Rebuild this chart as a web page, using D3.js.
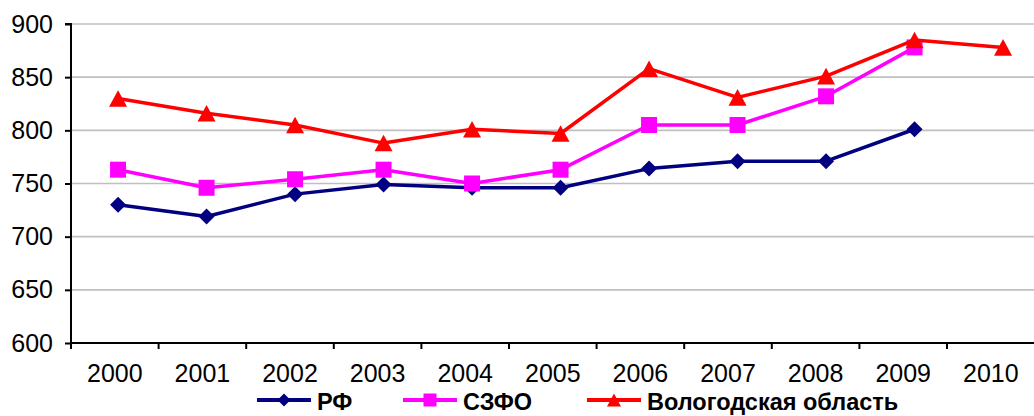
<!DOCTYPE html>
<html><head><meta charset="utf-8">
<script src="https://cdn.jsdelivr.net/npm/d3@7"></script>
<style>html,body{margin:0;padding:0;background:#fff;overflow:hidden}</style>
</head><body>
<svg id="c" width="1034" height="416"></svg>
<script>
const years = ["2000","2001","2002","2003","2004","2005","2006","2007","2008","2009","2010"];
const seriesNames = ["РФ","СЗФО","Вологодская область"];
const rf = [730,719,740,749,746,746,764,771,771,801,null];
const szfo = [763,746,754,763,750,763,805,805,832,878,null];
const vologda = [830,816,805,788,801,797,858,831,851,885,878];
const yTicks = [600,650,700,750,800,850,900];

const colors = ["#000080","#FF00FF","#FF0000"];
const data = [rf, szfo, vologda];

// custom marker shapes (size = width in px)
const diamond = { draw(ctx, s) { const r = s/2; ctx.moveTo(0,-r); ctx.lineTo(r,0); ctx.lineTo(0,r); ctx.lineTo(-r,0); ctx.closePath(); } };
const square = { draw(ctx, s) { const r = s/2; ctx.rect(-r,-r,s,s); } };
const triangle = { draw(ctx, s) { const r = s/2, h = s*0.92; ctx.moveTo(0,-h/2); ctx.lineTo(r,h/2); ctx.lineTo(-r,h/2); ctx.closePath(); } };
const shapes = [diamond, square, triangle];
const plotSizes = [16, 16, 18];
const legendSizes = [13, 13, 14];

const svg = d3.select("#c");
const mLeft = 71, mTop = 24, mBottom = 343;
const y = d3.scaleLinear().domain([600,900]).range([mBottom, mTop]);
const xAxisScale = d3.scaleBand().domain(years).range([mLeft, mLeft + 11*87.6]);
const x = d3.scaleBand().domain(years).range([mLeft + 2.8, mLeft + 2.8 + 11*88.5]);
const font = "'Liberation Sans', Arial, sans-serif";

// gridlines
svg.append("g").selectAll("line").data(yTicks.filter(t=>t>600)).join("line")
  .attr("x1", mLeft).attr("x2", 1034)
  .attr("y1", d=>y(d)).attr("y2", d=>y(d))
  .attr("stroke", "#c0c0c0").attr("stroke-width", 1.6);

// y axis
const ya = svg.append("g").attr("transform", `translate(${mLeft},0)`)
  .call(d3.axisLeft(y).tickValues(yTicks).tickSize(6).tickPadding(12));
ya.select(".domain").attr("stroke","#000").attr("stroke-width",2).attr("d", `M-6,${mTop}H0V${mBottom}`);
ya.selectAll(".tick line").attr("stroke","#000").attr("stroke-width",2);
ya.selectAll("text").attr("font-family", font).attr("font-size", 25).attr("fill","#000");

// x axis
const xa = svg.append("g").attr("transform", `translate(0,${mBottom})`)
  .call(d3.axisBottom(xAxisScale).tickSize(0).tickPadding(21));
xa.select(".domain").attr("stroke","#000").attr("stroke-width",2).attr("d", `M${mLeft},0H1034`);
xa.selectAll("text").attr("font-family", font).attr("font-size", 25).attr("fill","#000");
svg.append("g").selectAll("line").data(years).join("line")
  .attr("x1", d=>xAxisScale(d)).attr("x2", d=>xAxisScale(d))
  .attr("y1", mBottom).attr("y2", mBottom+6)
  .attr("stroke","#000").attr("stroke-width",2);

// lines + markers
const line = d3.line().x(d=>x(d[0])+x.bandwidth()/2).y(d=>y(d[1]));
data.forEach((vals, i) => {
  const pts = years.map((yr, j) => [yr, vals[j]]).filter(d=>d[1]!=null);
  svg.append("path").datum(pts).attr("d", line)
    .attr("fill","none").attr("stroke", colors[i]).attr("stroke-width", 3.5).attr("stroke-linejoin","round");
  svg.append("g").selectAll("path").data(pts).join("path")
    .attr("transform", d=>`translate(${x(d[0])+x.bandwidth()/2},${y(d[1])})`)
    .attr("d", d3.symbol().type(shapes[i]).size(plotSizes[i]))
    .attr("fill", colors[i]);
});

// legend
const legendX = [257, 403, 587];
const ly = 400;
seriesNames.forEach((name, i) => {
  const g = svg.append("g").attr("transform", `translate(${legendX[i]},${ly})`);
  g.append("line").attr("x1",0).attr("x2",54).attr("y1",0).attr("y2",0)
    .attr("stroke", colors[i]).attr("stroke-width",3.8);
  g.append("path").attr("transform", "translate(27,0)")
    .attr("d", d3.symbol().type(shapes[i]).size(legendSizes[i])).attr("fill", colors[i]);
  g.append("text").attr("x", 60).attr("y", 10).text(name)
    .attr("font-family", font).attr("font-weight","bold").attr("font-size", 23.5).attr("fill","#000");
});
</script>
</body></html>
